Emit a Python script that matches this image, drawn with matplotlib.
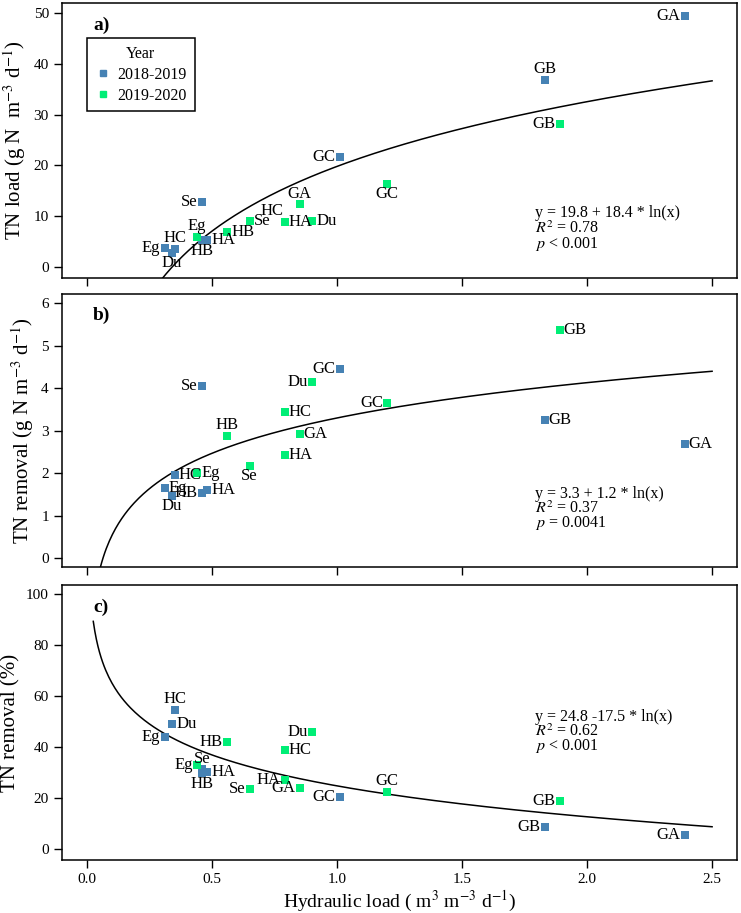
import numpy as np
from matplotlib import pyplot as plt
from matplotlib.lines import Line2D

plt.rcParams['font.family'] = ['Liberation Serif', 'DejaVu Serif']
plt.rcParams['mathtext.fontset'] = 'stix'

BLUE = '#4682B4'
GREEN = '#00EE76'

# site names for each campaign
sites_1819 = ['Eg', 'Du', 'HC', 'Se', 'HB', 'HA', 'GC', 'GB', 'GA']
sites_1920 = ['Eg', 'HB', 'Se', 'HC', 'HA', 'GA', 'Du', 'GC', 'GB']

# hydraulic load (m3 m-3 d-1)
hl_1819 = [0.31, 0.34, 0.35, 0.46, 0.46, 0.48, 1.01, 1.83, 2.39]
hl_1920 = [0.44, 0.56, 0.65, 0.79, 0.79, 0.85, 0.90, 1.20, 1.89]

# TN load (g N m-3 d-1)
load_1819 = [3.7, 2.8, 3.5, 12.8, 5.3, 5.3, 21.7, 36.9, 49.4]
load_1920 = [5.9, 6.8, 9.1, 8.9, 8.9, 12.3, 9.0, 16.4, 28.1]

# TN removal (g N m-3 d-1)
rem_1819 = [1.66, 1.47, 1.96, 4.05, 1.54, 1.61, 4.46, 3.25, 2.68]
rem_1920 = [2.0, 2.88, 2.18, 3.43, 2.43, 2.92, 4.15, 3.66, 5.37]

# TN removal (%)
pct_1819 = [43.9, 49.0, 54.6, 31.3, 29.7, 30.1, 20.4, 8.8, 5.5]
pct_1920 = [32.9, 41.9, 23.4, 38.7, 27.0, 23.8, 45.9, 22.3, 19.0]

# log fits: y = a + b ln(x)
fits = [(19.8, 18.4), (3.3, 1.2), (24.8, -17.5)]
fit_start = [0.3, 0.04, 0.025]
stats = [['y = 19.8 + 18.4 * ln(x)', '$R^2$ = 0.78', '$p$ < 0.001'],
         ['y = 3.3 + 1.2 * ln(x)', '$R^2$ = 0.37', '$p$ = 0.0041'],
         ['y = 24.8 -17.5 * ln(x)', '$R^2$ = 0.62', '$p$ < 0.001']]
stat_y = [[0.236, 0.180, 0.124], [0.267, 0.214, 0.162], [0.521, 0.468, 0.413]]

# label placement: l=left, r=right, t=top, b=below
pos_1819 = [['l', 'b', 't', 'l', 'b', 'r', 'l', 't', 'l'],
            ['r', 'b', 'r', 'l', 'l', 'r', 'l', 'r', 'r'],
            ['l', 'r', 't', 't', 'b', 'r', 'l', 'l', 'l']]
pos_1920 = [['t', 'r', 'r', 'tl', 'r', 't', 'r', 'b', 'l'],
            ['r', 't', 'b', 'r', 'r', 'r', 'l', 'l', 'r'],
            ['l', 'l', 'l', 'r', 'l', 'l', 'l', 't', 'l']]

offs = {'l': ((-3, 0), 'right', 'center'), 'r': ((3, 0), 'left', 'center'),
        't': ((0, 2), 'center', 'bottom'), 'b': ((0, -2), 'center', 'top'),
        'tl': ((-1, 2), 'right', 'bottom')}

ylabels = ['TN load (g N  m$^{-3}$ d$^{-1}$)', 'TN removal (g N m$^{-3}$ d$^{-1}$)',
           'TN removal (%)']
ylims = [(-2.2, 52), (-0.21, 6.22), (-4.3, 103.6)]
yticks = [np.arange(0, 51, 10), np.arange(0, 7, 1), np.arange(0, 101, 20)]
panels = ['a)', 'b)', 'c)']
ydata = [(load_1819, load_1920), (rem_1819, rem_1920), (pct_1819, pct_1920)]

fig = plt.figure(figsize=(7.41, 9.13), dpi=100)
boxes = [[0.0837, 0.6955, 0.911, 0.3012],
         [0.0837, 0.379, 0.911, 0.299],
         [0.0837, 0.058, 0.911, 0.3012]]

for i in range(3):
    ax = fig.add_axes(boxes[i])
    y1, y2 = ydata[i]
    a, b = fits[i]
    xx = np.linspace(fit_start[i], 2.5, 400)
    ax.plot(xx, a + b * np.log(xx), color='black', lw=1.1, zorder=2)
    ax.scatter(hl_1819, y1, marker='s', s=26, color=BLUE, zorder=3, linewidths=0)
    ax.scatter(hl_1920, y2, marker='s', s=26, color=GREEN, zorder=3, linewidths=0)
    for names, xs, ys, pp in [(sites_1819, hl_1819, y1, pos_1819[i]),
                              (sites_1920, hl_1920, y2, pos_1920[i])]:
        for n, x, y, p in zip(names, xs, ys, pp):
            (dx, dy), ha, va = offs[p]
            ax.annotate(n, (x, y), xytext=(dx, dy), textcoords='offset points',
                        ha=ha, va=va, fontsize=12, zorder=4)
    for s, yy in zip(stats[i], stat_y[i]):
        ax.text(0.70, yy, s, transform=ax.transAxes, fontsize=11.5, va='center', ha='left')
    ax.text(0.046, 0.92, panels[i], transform=ax.transAxes, fontsize=14,
            fontweight='bold', va='center')
    ax.set_xlim(-0.1, 2.6)
    ax.set_ylim(*ylims[i])
    ax.set_xticks([0.0, 0.5, 1.0, 1.5, 2.0, 2.5])
    ax.set_yticks(yticks[i])
    ax.tick_params(direction='out', length=6, labelsize=11, width=1)
    if i < 2:
        ax.tick_params(axis='x', labelbottom=False)
    else:
        ax.set_xticklabels(['0.0', '0.5', '1.0', '1.5', '2.0', '2.5'])
        ax.set_xlabel('Hydraulic load ( m$^3$ m$^{-3}$ d$^{-1}$)', fontsize=14, labelpad=2)
    ax.set_ylabel(ylabels[i], fontsize=15, labelpad=4)
    for sp in ax.spines.values():
        sp.set_linewidth(1.1)
    if i == 0:
        h = [Line2D([], [], marker='s', ls='', color=BLUE, markersize=5),
             Line2D([], [], marker='s', ls='', color=GREEN, markersize=5)]
        leg = ax.legend(h, ['2018-2019', '2019-2020'], title='Year', loc='upper left',
                        bbox_to_anchor=(0.037, 0.873), borderaxespad=0, fontsize=11.5,
                        title_fontsize=11.5, fancybox=False, edgecolor='black',
                        framealpha=1, handletextpad=0.4, borderpad=0.5,
                        handlelength=1.0, labelspacing=0.3)
        leg.get_frame().set_linewidth(1.1)

fig.savefig('out.png', dpi=100)
